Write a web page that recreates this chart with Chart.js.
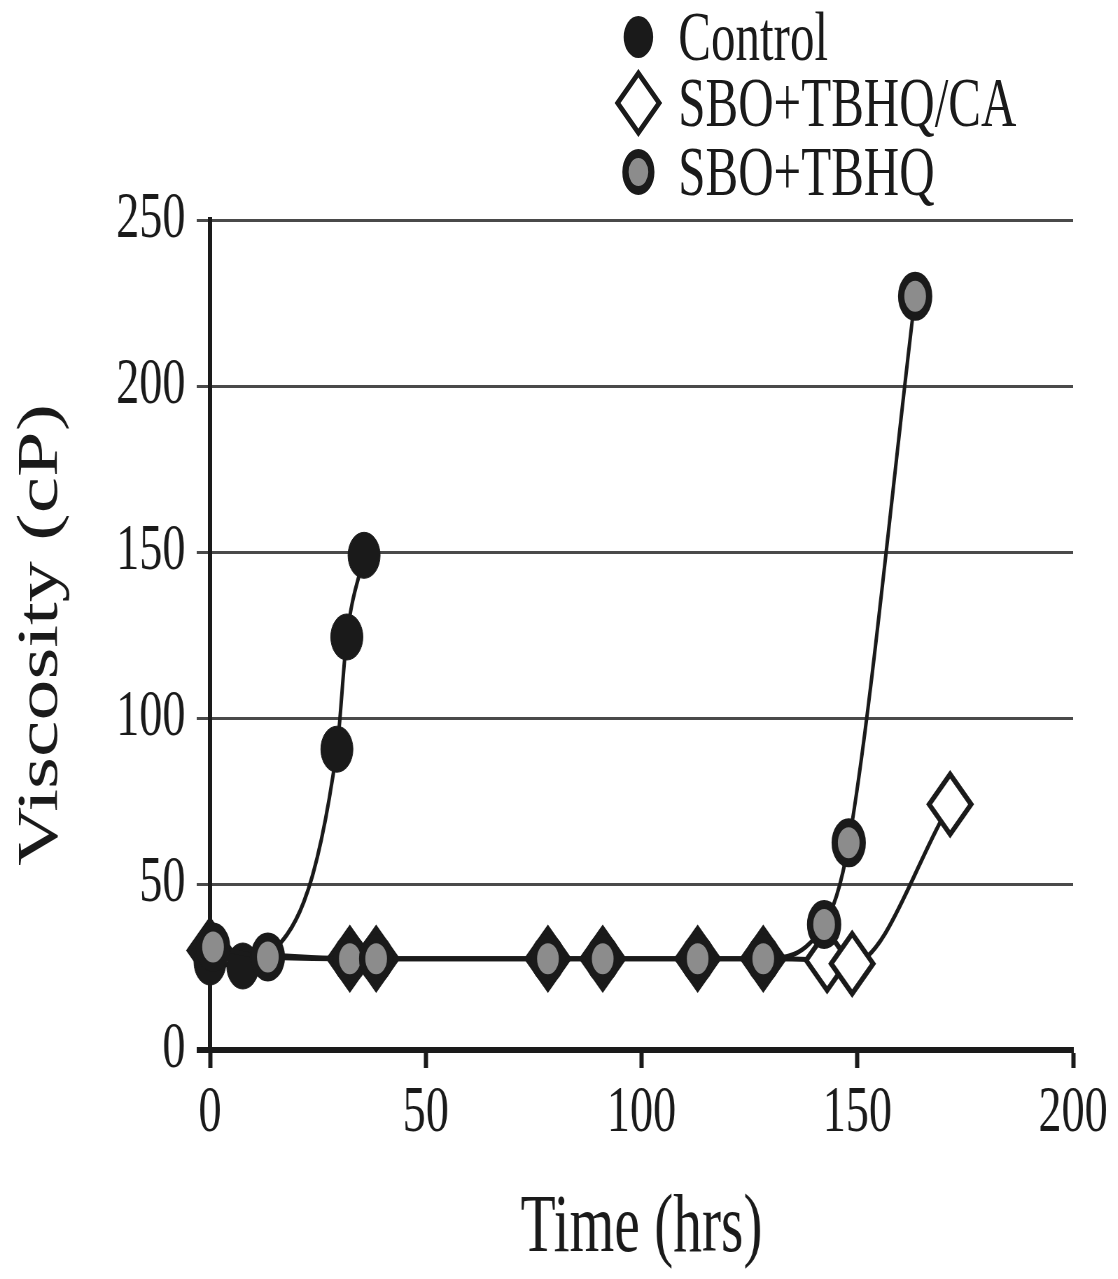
<!DOCTYPE html>
<html>
<head>
<meta charset="utf-8">
<script src="https://cdn.jsdelivr.net/npm/chart.js@4.4.1/dist/chart.umd.min.js"></script>
<style>
html, body { margin: 0; padding: 0; background: #fff; overflow: hidden; }
/* the scanned figure is squeezed horizontally, so the whole drawing is too */
#wrap { position: relative; width: 1597px; height: 1279px; transform: scaleX(0.7); transform-origin: 0 0; }
#legend { position: absolute; left: 0; top: 0; font-family: 'Liberation Serif', 'DejaVu Serif', serif; font-size: 70px; color: #1a1a1a; }
.item { position: absolute; left: 877px; height: 70px; line-height: 70px; display: flex; align-items: center; white-space: nowrap; }
.mk { width: 70px; height: 70px; display: flex; align-items: center; justify-content: center; }
.txt { margin-left: 22px; }
.dot { width: 42px; height: 42px; border-radius: 50%; background: #1a1a1a; }
.dia { width: 48px; height: 48px; box-sizing: border-box; border: 6px solid #1a1a1a; background: #fff; transform: rotate(45deg); }
.ring { width: 46px; height: 46px; box-sizing: border-box; border-radius: 50%; border: 9px solid #1a1a1a; background: #8c8c8c; }
</style>
</head>
<body>
<div id="wrap">
  <canvas id="chart"></canvas>
  <div id="legend">
    <div class="item" style="top:2px"><span class="mk"><span class="dot"></span></span><span class="txt">Control</span></div>
    <div class="item" style="top:68px"><span class="mk"><span class="dia"></span></span><span class="txt">SBO+TBHQ/CA</span></div>
    <div class="item" style="top:137px"><span class="mk"><span class="ring"></span></span><span class="txt">SBO+TBHQ</span></div>
  </div>
</div>
<script>
// valores
const controlTime = [0, 7.6, 13.4, 29.4, 31.7, 35.7];
const controlVisc = [26.5, 25.3, 28, 90.6, 124.4, 149];

const tbhqCaTime = [0, 32.4, 38.5, 78.3, 91, 113, 128.2, 143, 148.8, 171.5];
const tbhqCaVisc = [30, 27.5, 27.5, 27.5, 27.5, 27.5, 27.5, 27, 26, 74];
const tbhqCaFill = ['#1a1a1a', '#1a1a1a', '#1a1a1a', '#1a1a1a', '#1a1a1a', '#1a1a1a', '#1a1a1a', '#fff', '#fff', '#fff'];

const tbhqTime = [0.7, 13.4, 32.4, 38.5, 78.3, 91, 113, 128.2, 142.3, 148, 163.4];
const tbhqVisc = [31, 28, 27.5, 27.5, 27.5, 27.5, 27.5, 27.5, 37.8, 62.4, 227];

const xTicks = [0, 50, 100, 150, 200];
const yTicks = [0, 50, 100, 150, 200, 250];

const INK = '#1a1a1a';
const pts = (xs, ys) => xs.map((x, i) => ({ x, y: ys[i] }));

Chart.defaults.font.family = "'Liberation Serif', 'DejaVu Serif', serif";
Chart.defaults.color = INK;

new Chart(document.getElementById('chart'), {
  type: 'line',
  data: {
    datasets: [
      {
        label: 'SBO+TBHQ', data: pts(tbhqTime, tbhqVisc), order: 0,
        borderColor: INK, borderWidth: 5, cubicInterpolationMode: 'monotone',
        pointStyle: 'circle', pointRadius: 20, pointBorderWidth: 9,
        pointBackgroundColor: '#8c8c8c', pointBorderColor: INK, clip: false
      },
      {
        label: 'Control', data: pts(controlTime, controlVisc), order: 1,
        borderColor: INK, borderWidth: 5, cubicInterpolationMode: 'monotone',
        pointStyle: 'circle', pointRadius: 23, pointBorderWidth: 1,
        pointBackgroundColor: INK, pointBorderColor: INK, clip: false
      },
      {
        label: 'SBO+TBHQ/CA', data: pts(tbhqCaTime, tbhqCaVisc), order: 2,
        borderColor: INK, borderWidth: 5, cubicInterpolationMode: 'monotone',
        pointStyle: 'rectRot', pointRadius: 30, pointBorderWidth: 6,
        pointBackgroundColor: tbhqCaFill, pointBorderColor: INK, clip: false
      }
    ]
  },
  options: {
    responsive: true,
    maintainAspectRatio: false,
    animation: false,
    events: [],
    layout: { padding: { top: 220, right: 64, left: 0, bottom: 0 } },
    plugins: { legend: { display: false }, tooltip: { enabled: false } },
    scales: {
      x: {
        type: 'linear', min: 0, max: 200,
        afterFit: s => { s.height = 229; },
        afterBuildTicks: s => { s.ticks = xTicks.map(v => ({ value: v })); },
        border: { display: true, color: INK, width: 6 },
        grid: { drawOnChartArea: false, drawTicks: true, tickLength: 18, tickWidth: 6, tickColor: INK, color: INK },
        ticks: { font: { size: 66 }, padding: 6, maxRotation: 0 },
        title: { display: true, text: 'Time (hrs)', font: { size: 82 }, padding: { top: 0, bottom: 0 } }
      },
      y: {
        type: 'linear', min: 0, max: 250,
        afterFit: s => { s.width = 300; },
        afterBuildTicks: s => { s.ticks = yTicks.map(v => ({ value: v })); },
        border: { display: true, color: INK, width: 6 },
        grid: {
          drawTicks: true, tickLength: 19,
          color: c => (c.tick && c.tick.value === 0) ? INK : '#4a4a4a',
          lineWidth: c => (c.tick && c.tick.value === 0) ? 6 : 3
        },
        ticks: { font: { size: 66 }, padding: 16 },
        title: { display: true, text: 'Viscosity (cP)', font: { size: 82 }, padding: { top: 10, bottom: 0 } }
      }
    }
  }
});
</script>
</body>
</html>
